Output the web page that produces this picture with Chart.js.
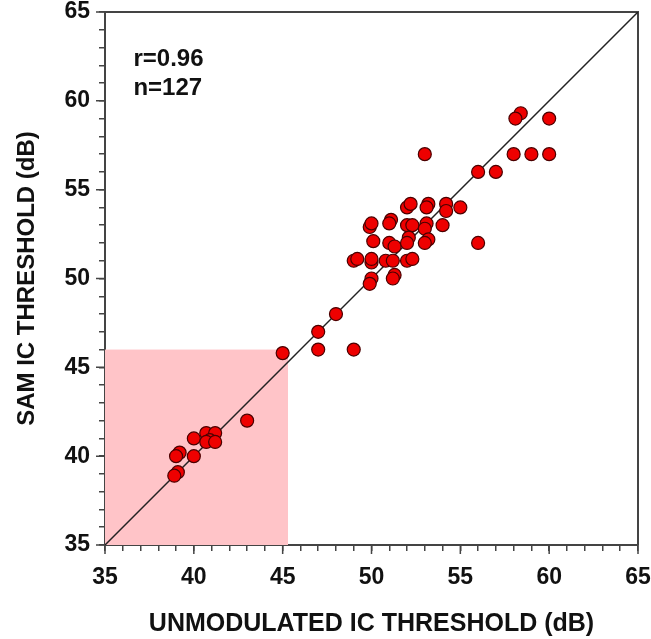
<!DOCTYPE html>
<html>
<head>
<meta charset="utf-8">
<script src="https://cdn.jsdelivr.net/npm/chart.js@4.4.1/dist/chart.umd.min.js"></script>
<style>
  html, body { margin: 0; padding: 0; background: #fff; }
  #wrap { width: 651px; height: 639px; }
</style>
</head>
<body>
<div id="wrap"><canvas id="scatterChart"></canvas></div>
<script>
// unmodulated IC threshold (x) vs SAM IC threshold (y), dB
const unmodulated = [
  58.4, 58.1, 60, 58, 59, 60, 56, 57, 53, 56,
  52, 52.2, 53.2, 53.1, 54.2, 54.2, 55,
  49.9, 50, 51.1, 51, 52, 52.3, 53.1, 53, 54,
  50.1, 51, 51.3, 52.1, 52, 53.2, 53,
  49, 49.2, 50, 50, 50.8, 51.2, 52, 52.3,
  50, 49.9, 51.3, 51.2,
  48, 47, 47, 49, 45,
  43, 40, 40.7, 41.2, 40.9, 40.7, 41.2, 39.2, 39, 40, 39.1, 38.9
];
const sam = [
  59.3, 59, 59, 57, 57, 57, 56, 56, 57, 52,
  54, 54.2, 54.2, 54, 54.2, 53.8, 54,
  52.9, 53.1, 53.3, 53.1, 53, 53, 53.1, 52.8, 53,
  52.1, 52, 51.8, 52.3, 52, 52.2, 52,
  51, 51.1, 50.9, 51.1, 51, 51, 51, 51.1,
  50, 49.7, 50.2, 50,
  48, 47, 46, 46, 45.8,
  42, 41, 41.3, 41.3, 40.9, 40.8, 40.8, 40.2, 40, 40, 39.1, 38.9
];
const identityLine = [35, 65];
const tickLabels = [35, 40, 45, 50, 55, 60, 65];
const shadedX = [35, 45.3];
const shadedY = [35, 46];
const statsText = ['r=0.96', 'n=127'];

const points = unmodulated.map((x, i) => ({ x: x, y: sam[i] }));
const linePts = identityLine.map(v => ({ x: v, y: v }));
const FONT = '"Liberation Sans", Arial, sans-serif';

const decorPlugin = {
  id: 'decor',
  beforeDatasetsDraw(chart) {
    const ctx = chart.ctx;
    const xs = chart.scales.x, ys = chart.scales.y;
    const a = chart.chartArea;
    ctx.save();
    // shaded region
    const x0 = xs.getPixelForValue(shadedX[0]), x1 = xs.getPixelForValue(shadedX[1]);
    const y0 = ys.getPixelForValue(shadedY[0]), y1 = ys.getPixelForValue(shadedY[1]);
    ctx.fillStyle = '#ffc4c8';
    ctx.fillRect(x0, y1, x1 - x0, y0 - y1);
    // frame top/right
    ctx.strokeStyle = '#444';
    ctx.lineWidth = 2;
    ctx.beginPath();
    ctx.moveTo(a.left, a.top);
    ctx.lineTo(a.right, a.top);
    ctx.lineTo(a.right, a.bottom);
    ctx.stroke();
    // longer major ticks
    ctx.lineWidth = 1.5;
    ctx.beginPath();
    tickLabels.forEach(v => {
      const px = xs.getPixelForValue(v);
      ctx.moveTo(px, a.bottom);
      ctx.lineTo(px, a.bottom + 9);
      const py = ys.getPixelForValue(v);
      ctx.moveTo(a.left, py);
      ctx.lineTo(a.left - 9, py);
    });
    ctx.stroke();
    // stats text
    ctx.fillStyle = '#111';
    ctx.font = 'bold 24px ' + FONT;
    ctx.textBaseline = 'middle';
    ctx.textAlign = 'left';
    ctx.fillText(statsText[0], xs.getPixelForValue(36.6), ys.getPixelForValue(62.35));
    ctx.fillText(statsText[1], xs.getPixelForValue(36.6), ys.getPixelForValue(60.72));
    ctx.restore();
  }
};

const tickFont = { family: FONT, size: 23, weight: 'bold' };
const noPad = s => { s.paddingTop = 0; s.paddingBottom = 0; s.paddingLeft = 0; s.paddingRight = 0; };

new Chart(document.getElementById('scatterChart'), {
  type: 'scatter',
  data: {
    datasets: [
      {
        data: points,
        backgroundColor: '#ee0000',
        borderColor: '#4a0000',
        borderWidth: 1.2,
        pointRadius: 6.5,
        order: 1
      },
      {
        type: 'line',
        data: linePts,
        borderColor: '#222',
        borderWidth: 1.5,
        pointRadius: 0,
        fill: false,
        order: 2
      }
    ]
  },
  options: {
    responsive: true,
    maintainAspectRatio: false,
    animation: false,
    layout: { padding: { top: 12, right: 13, left: 0, bottom: 0 } },
    plugins: { legend: { display: false }, tooltip: { enabled: false } },
    scales: {
      x: {
        type: 'linear', min: 35, max: 65,
        ticks: {
          stepSize: 1, autoSkip: false, maxRotation: 0,
          color: '#111', font: tickFont, padding: 13,
          callback: v => tickLabels.includes(v) ? String(v) : ''
        },
        grid: { drawOnChartArea: false, tickLength: 6, color: '#444', lineWidth: 1.5 },
        border: { color: '#444', width: 2 },
        title: { display: true, text: 'UNMODULATED IC THRESHOLD (dB)', color: '#111', font: { family: FONT, size: 25, weight: 'bold' }, padding: { top: 0, bottom: 0 } },
        afterFit: s => { s.height = 94; noPad(s); }
      },
      y: {
        type: 'linear', min: 35, max: 65,
        ticks: {
          stepSize: 1, autoSkip: false,
          color: '#111', font: tickFont, padding: 9,
          callback: v => tickLabels.includes(v) ? String(v) : ''
        },
        grid: { drawOnChartArea: false, tickLength: 6, color: '#444', lineWidth: 1.5 },
        border: { color: '#444', width: 2 },
        title: { display: true, text: 'SAM IC THRESHOLD (dB)', color: '#111', font: { family: FONT, size: 24, weight: 'bold' }, padding: { top: 12.6, bottom: 0 } },
        afterFit: s => { s.width = 105; noPad(s); }
      }
    }
  },
  plugins: [decorPlugin]
});
</script>
</body>
</html>
